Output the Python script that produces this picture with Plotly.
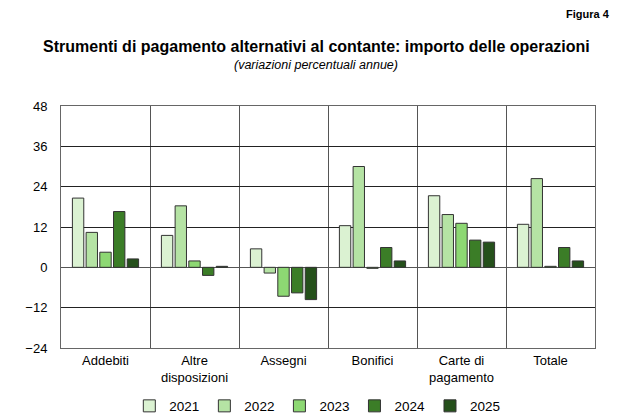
import plotly.graph_objects as go

categories = ["Addebiti", "Altre<br>disposizioni", "Assegni", "Bonifici",
              "Carte di<br>pagamento", "Totale"]
years = ["2021", "2022", "2023", "2024", "2025"]
values = {
    "2021": [20.6, 9.5, 5.5, 12.4, 21.3, 12.8],
    "2022": [10.4, 18.3, -1.7, 30.0, 15.7, 26.4],
    "2023": [4.5, 1.9, -8.6, -0.3, 13.1, 0.3],
    "2024": [16.6, -2.4, -7.6, 5.9, 8.1, 5.9],
    "2025": [2.5, 0.3, -9.6, 1.9, 7.5, 1.9],
}
colors = ["#dbf2d2", "#b5e3a4", "#8dd873", "#3b7d27", "#25501b"]
y_ticks = [-24, -12, 0, 12, 24, 36, 48]

FONT = "Liberation Sans, Arial, sans-serif"

fig = go.Figure()
for yr, col in zip(years, colors):
    fig.add_trace(go.Bar(
        name=yr, x=categories, y=values[yr],
        marker=dict(color=col, line=dict(color="#333333", width=1)),
    ))

fig.update_layout(
    width=621, height=415,
    margin=dict(l=61, r=26, t=106, b=67, autoexpand=False),
    paper_bgcolor="white", plot_bgcolor="white",
    barmode="group", bargap=0.23, bargroupgap=0.17,
    font=dict(family=FONT, size=12, color="black"),
    showlegend=True,
    legend=dict(orientation="h", x=0.48, xanchor="center", y=-0.24, yanchor="middle",
                font=dict(size=13.5), itemwidth=30, traceorder="normal",
                tracegroupgap=0),
    annotations=[
        dict(text="<b>Figura 4</b>", xref="paper", yref="paper", x=1.032, y=1.38,
             xanchor="right", yanchor="middle", showarrow=False,
             font=dict(size=11, family=FONT)),
        dict(text="<b>Strumenti di pagamento alternativi al contante: importo delle operazioni</b>",
             xref="paper", yref="paper", x=0.478, y=1.245, xanchor="center",
             yanchor="middle", showarrow=False, font=dict(size=16, family=FONT)),
        dict(text="<i>(variazioni percentuali annue)</i>",
             xref="paper", yref="paper", x=0.478, y=1.17, xanchor="center",
             yanchor="middle", showarrow=False, font=dict(size=12.5, family=FONT)),
    ],
)

fig.update_xaxes(
    tickson="boundaries", showgrid=True, gridcolor="#555555", gridwidth=1,
    ticks="", showline=True, linecolor="#666666", linewidth=1, mirror=True,
    tickfont=dict(size=13), fixedrange=True,
)
fig.update_yaxes(
    range=[-24, 48], tickvals=y_ticks, showgrid=True, gridcolor="#222222",
    gridwidth=1, zeroline=True, zerolinecolor="#555555", zerolinewidth=1,
    showline=True, linecolor="#666666", linewidth=1, mirror=True,
    ticks="", ticklabelstandoff=10, tickfont=dict(size=13), fixedrange=True,
)

fig.write_html("out.html")
